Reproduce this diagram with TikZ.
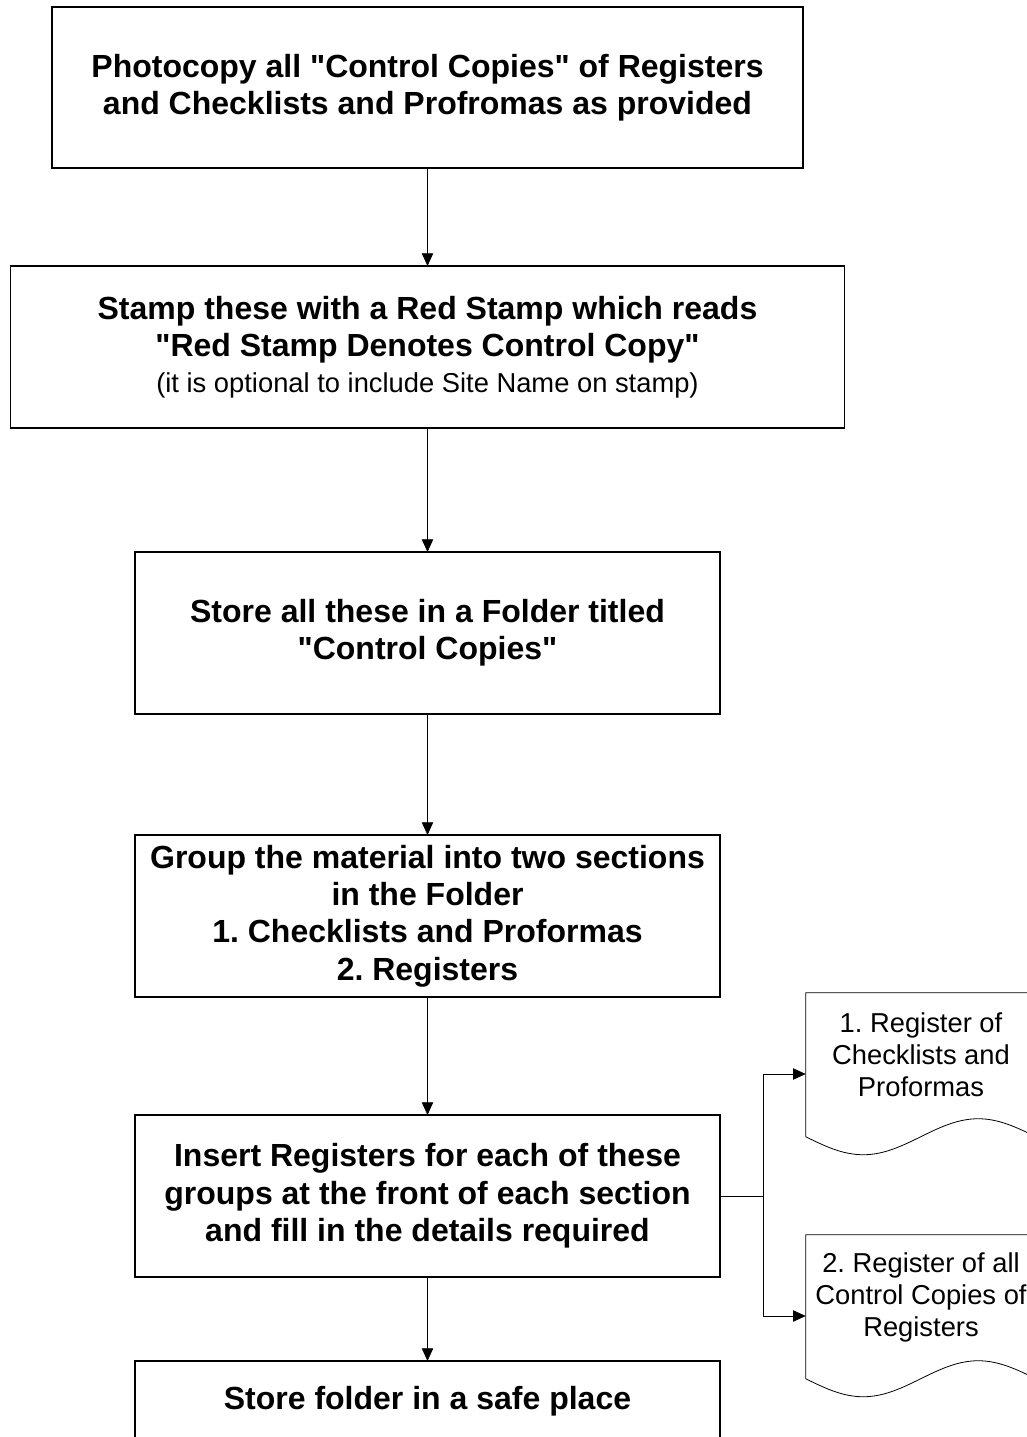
\documentclass[tikz,border=0pt]{standalone}
\usepackage{fontspec}
\setmainfont{Liberation Sans}
\usepackage{tikz}
\usetikzlibrary{positioning,arrows.meta}
\newcommand{\smalltxt}{\mdseries\fontsize{20.5}{24}\selectfont}
\frenchspacing

\begin{document}
\begin{tikzpicture}[
  x=0.75pt, y=-0.75pt,
  font=\bfseries\fontsize{24}{28}\selectfont,
  blk/.style={draw, line width=1.1pt, outer sep=0pt, align=center, inner sep=4pt, minimum width=438.75pt, minimum height=121.5pt},
  doc/.style={align=center, inner sep=0pt, minimum width=172.5pt, minimum height=93pt, font=\smalltxt},
  ar/.style={-{Triangle[length=9.5pt, width=8.5pt]}, line width=0.6pt}]
\useasboundingbox (0,0) rectangle (1026,1437);
% ---- main column
\node[blk, minimum width=563.25pt, minimum height=120.75pt] (copy) at (427.5,87.5) {Photocopy all \textquotedbl Control Copies\textquotedbl{} of Registers\\ and Checklists and Profromas as provided};
\node[blk, minimum width=625.5pt, below=73.5pt of copy] (stamp) {Stamp these with a Red Stamp which reads\\ \textquotedbl Red Stamp Denotes Control Copy\textquotedbl\\[-1.5pt] {\smalltxt (it is optional to include Site Name on stamp)}};
\node[blk, below=93pt of stamp] (store) {Store all these in a Folder titled\\ \textquotedbl Control Copies\textquotedbl};
\node[blk, below=90.75pt of store] (group) {Group the material into two sections\\ in the Folder\\ 1. Checklists and Proformas\\ 2. Registers};
\node[blk, below=88.5pt of group] (insert) {Insert Registers for each of these\\ groups at the front of each section\\ and fill in the details required};
\node[blk, minimum height=60pt, below=63pt of insert] (safe) {Store folder in a safe place};
\draw[ar] (copy.south) -- (stamp.north);
\draw[ar] (stamp.south) -- (store.north);
\draw[ar] (store.south) -- (group.north);
\draw[ar] (group.south) -- (insert.north);
\draw[ar] (insert.south) -- (safe.north);
% ---- registers (document shapes)
\node[doc] (regA) at (921,1055) {1. Register of\\ Checklists and\\ Proformas};
\node[doc] (regB) at (921,1297) {2. Register of all\\ Control Copies of\\ Registers};
\foreach \d in {regA,regB}
  \draw[line width=0.6pt] (\d.north east) -- (\d.north west) -- ++(0,144)
    sin ++(57.5,18) cos ++(57.5,-18) sin ++(57.5,-18) cos ++(57.5,18) -- cycle;
\draw[ar] (insert.east) -- ++(43,0) |- ([yshift=-14.25pt]regA.west);
\draw[ar] (insert.east) -- ++(43,0) |- ([yshift=-14.25pt]regB.west);
\end{tikzpicture}
\end{document}
